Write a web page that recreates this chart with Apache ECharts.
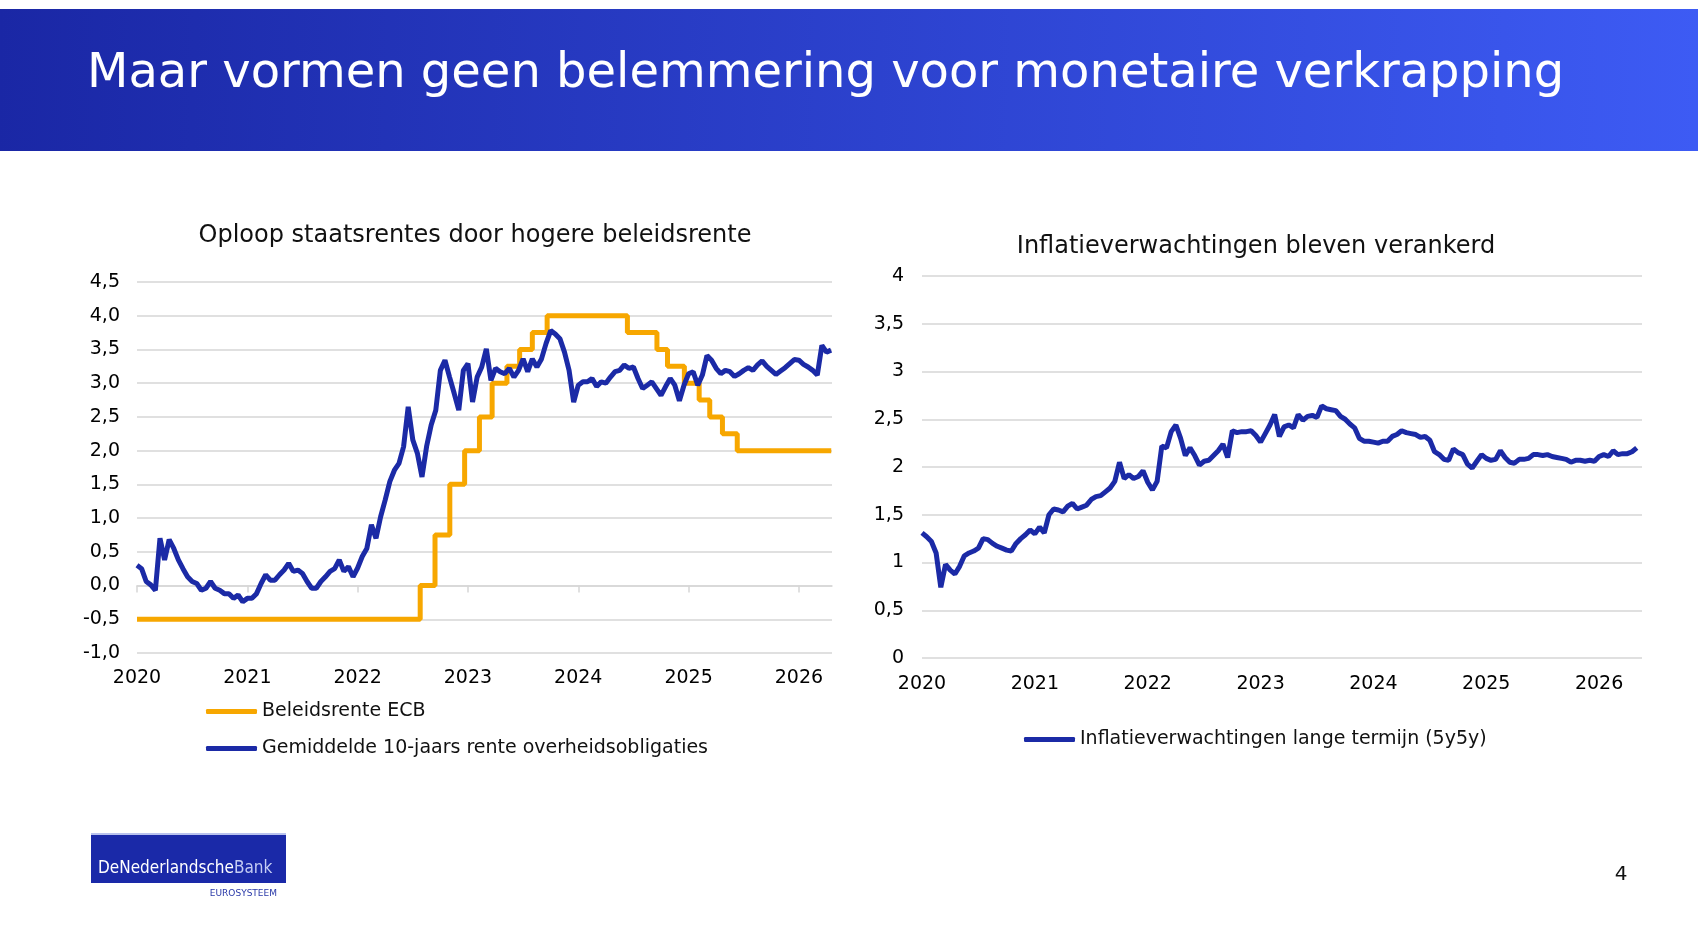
<!DOCTYPE html>
<html>
<head>
<meta charset="utf-8">
<script src="https://cdn.jsdelivr.net/npm/echarts@6/dist/echarts.min.js"></script>
<style>
  html, body { margin: 0; padding: 0; background: #fff; }
  #chart { width: 1698px; height: 928px; }
</style>
</head>
<body>
<div id="chart"></div>
<script>
// tick labels
const years = [2020, 2021, 2022, 2023, 2024, 2025, 2026];

// ECB deposit rate: date of change + new level
const policyDates = ["2020-01-01", "2022-07-27", "2022-09-14", "2022-11-02", "2022-12-21",
  "2023-02-08", "2023-03-22", "2023-05-10", "2023-06-21", "2023-08-02", "2023-09-20",
  "2024-06-12", "2024-09-18", "2024-10-23", "2024-12-18", "2025-02-05", "2025-03-12",
  "2025-04-23", "2025-06-11", "2026-04-18"];
const policyRates = [-0.5, 0, 0.75, 1.5, 2.0, 2.5, 3.0, 3.25, 3.5, 3.75, 4.0,
  3.75, 3.5, 3.25, 3.0, 2.75, 2.5, 2.25, 2.0, 2.0];

// half-monthly readings from start of 2020
const seriesStart = 2020;
const perYear = 24;

// gemiddelde 10-jaars rente
const bondYield = [
  0.30, 0.25, 0.06, 0.01, -0.07, 0.70, 0.38, 0.68, 0.55, 0.38, 0.25, 0.13,
  0.06, 0.03, -0.07, -0.04, 0.06, -0.04, -0.07, -0.12, -0.12, -0.19, -0.14, -0.24,
  -0.19, -0.19, -0.12, 0.03, 0.16, 0.08, 0.08, 0.16, 0.23, 0.33, 0.21, 0.23,
  0.18, 0.06, -0.04, -0.04, 0.06, 0.13, 0.21, 0.25, 0.38, 0.21, 0.28, 0.13,
  0.26, 0.43, 0.55, 0.90, 0.70, 1.02, 1.27, 1.54, 1.71, 1.81, 2.06, 2.65,
  2.16, 1.96, 1.61, 2.06, 2.38, 2.60, 3.19, 3.34, 3.09, 2.85, 2.60, 3.19,
  3.29, 2.72, 3.09, 3.24, 3.51, 3.04, 3.22, 3.17, 3.14, 3.22, 3.09, 3.19,
  3.36, 3.17, 3.36, 3.24, 3.36, 3.59, 3.78, 3.73, 3.66, 3.46, 3.19, 2.72,
  2.97, 3.02, 3.02, 3.07, 2.95, 3.02, 3.00, 3.09, 3.17, 3.19, 3.27, 3.22,
  3.24, 3.07, 2.92, 2.97, 3.02, 2.92, 2.82, 2.95, 3.07, 2.97, 2.74, 2.97,
  3.14, 3.17, 2.97, 3.12, 3.41, 3.34, 3.22, 3.14, 3.19, 3.17, 3.10, 3.14,
  3.19, 3.23, 3.19, 3.27, 3.33, 3.25, 3.19, 3.13, 3.18, 3.23, 3.29, 3.35,
  3.34, 3.28, 3.24, 3.19, 3.12, 3.56, 3.46, 3.49
];

// inflatieverwachtingen 5y5y
const inflExp = [
  1.31, 1.27, 1.22, 1.10, 0.74, 0.98, 0.92, 0.88, 0.96, 1.07, 1.10, 1.12,
  1.15, 1.25, 1.24, 1.20, 1.17, 1.15, 1.13, 1.12, 1.20, 1.25, 1.29, 1.34,
  1.30, 1.37, 1.31, 1.50, 1.56, 1.55, 1.53, 1.59, 1.62, 1.56, 1.58, 1.60,
  1.66, 1.69, 1.70, 1.74, 1.78, 1.85, 2.05, 1.88, 1.92, 1.88, 1.90, 1.96,
  1.84, 1.76, 1.85, 2.22, 2.20, 2.37, 2.44, 2.30, 2.12, 2.20, 2.12, 2.02,
  2.06, 2.07, 2.12, 2.17, 2.24, 2.10, 2.38, 2.36, 2.37, 2.37, 2.38, 2.33,
  2.26, 2.35, 2.44, 2.55, 2.32, 2.42, 2.44, 2.41, 2.55, 2.49, 2.53, 2.54,
  2.52, 2.64, 2.61, 2.60, 2.59, 2.53, 2.50, 2.45, 2.41, 2.30, 2.27, 2.27,
  2.26, 2.25, 2.27, 2.27, 2.32, 2.34, 2.38, 2.36, 2.35, 2.34, 2.31, 2.32,
  2.28, 2.16, 2.13, 2.08, 2.07, 2.19, 2.15, 2.13, 2.03, 1.99, 2.06, 2.13,
  2.09, 2.07, 2.08, 2.17, 2.10, 2.05, 2.04, 2.08, 2.08, 2.09, 2.13, 2.13,
  2.12, 2.13, 2.11, 2.10, 2.09, 2.08, 2.05, 2.07, 2.07, 2.06, 2.07, 2.06,
  2.11, 2.13, 2.11, 2.17, 2.13, 2.14, 2.14, 2.16, 2.20
];

const BLUE = "#1b2aa6";
const ORANGE = "#f7a700";
const GRID = "#d6d6d6";
const FONT = "DejaVu Sans, Verdana, sans-serif";

function toYear(s) {
  const [y, m, d] = s.split("-").map(Number);
  const t0 = Date.UTC(y, 0, 1);
  return y + (Date.UTC(y, m - 1, d) - t0) / (Date.UTC(y + 1, 0, 1) - t0);
}

const policyData = policyDates.map((d, i) => [toYear(d), policyRates[i]]);
const bondData = bondYield.map((v, i) => [seriesStart + i / perYear, v]);
const inflData = inflExp.map((v, i) => [seriesStart + i / perYear, v]);

const comma = (v, dec) => v.toFixed(dec).replace(".", ",").replace("-0,0", "0,0");

const chart = echarts.init(document.getElementById("chart"));

const labelStyle = { color: "#000", fontSize: 19, fontFamily: FONT };

const option = {
  animation: false,
  backgroundColor: "#fff",
  graphic: [
    {
      type: "rect", shape: { x: 0, y: 9, width: 1698, height: 142 },
      style: {
        fill: new echarts.graphic.LinearGradient(0, 0, 1, 0.3, [
          { offset: 0, color: "#1a27a5" },
          { offset: 1, color: "#3d5bf4" }
        ])
      }, z: -1
    },
    {
      type: "text", x: 87, y: 75,
      style: { text: "Maar vormen geen belemmering voor monetaire verkrapping", fill: "#fff",
        font: "48px " + FONT, verticalAlign: "middle" }
    },
    {
      type: "text", x: 475, y: 236,
      style: { text: "Oploop staatsrentes door hogere beleidsrente", fill: "#111",
        font: "24px " + FONT, align: "center", verticalAlign: "middle" }
    },
    {
      type: "text", x: 1256, y: 247,
      style: { text: "Inflatieverwachtingen bleven verankerd", fill: "#111",
        font: "24px " + FONT, align: "center", verticalAlign: "middle" }
    },
    // logo
    { type: "rect", shape: { x: 91, y: 835, width: 195, height: 48 }, style: { fill: "#1a29a8" } },
    { type: "rect", shape: { x: 91, y: 833, width: 195, height: 2 }, style: { fill: "#b9c2ee" } },
    {
      type: "text", x: 98, y: 869,
      style: {
        text: "{a|DeNederlandsche}{b|Bank}", verticalAlign: "middle",
        rich: {
          a: { fill: "#fff", fontSize: 17, fontFamily: "DejaVu Sans Condensed, DejaVu Sans" },
          b: { fill: "#c4ccf4", fontSize: 17, fontFamily: "DejaVu Sans Condensed, DejaVu Sans" }
        }
      }
    },
    {
      type: "text", x: 277, y: 894,
      style: { text: "EUROSYSTEEM", fill: "#2a39a8", font: "9px " + FONT, align: "right", verticalAlign: "middle" }
    },
    {
      type: "text", x: 1621, y: 875,
      style: { text: "4", fill: "#111", font: "20px " + FONT, align: "center", verticalAlign: "middle" }
    }
  ],
  grid: [
    { left: 137, top: 282, width: 695, height: 371 },
    { left: 922, top: 276, width: 720, height: 382 }
  ],
  xAxis: [
    {
      gridIndex: 0, type: "value", min: 2020, max: 2026.3, position: "bottom",
      axisLine: { show: false, onZero: false }, axisTick: { show: false }, splitLine: { show: false },
      axisLabel: { ...labelStyle, margin: 16, customValues: years, formatter: v => String(v) }
    },
    {
      // zero line with year ticks
      gridIndex: 0, type: "value", min: 2020, max: 2026.3, position: "bottom",
      axisLine: { show: true, onZero: true, lineStyle: { color: GRID, width: 1.5 } },
      axisTick: { show: true, length: 7, customValues: years, lineStyle: { color: GRID, width: 1.5 } },
      axisLabel: { show: false }, splitLine: { show: false }
    },
    {
      gridIndex: 1, type: "value", min: 2020, max: 2026.38,
      axisLine: { show: false, onZero: false }, axisTick: { show: false }, splitLine: { show: false },
      axisLabel: { ...labelStyle, margin: 17, customValues: years, formatter: v => String(v) }
    }
  ],
  yAxis: [
    {
      gridIndex: 0, type: "value", min: -1, max: 4.5, interval: 0.5,
      axisLine: { show: false }, axisTick: { show: false },
      splitLine: { lineStyle: { color: GRID, width: 1.5 } },
      axisLabel: { ...labelStyle, margin: 17, formatter: v => comma(v, 1) }
    },
    {
      gridIndex: 1, type: "value", min: 0, max: 4, interval: 0.5,
      axisLine: { show: false }, axisTick: { show: false },
      splitLine: { lineStyle: { color: GRID, width: 1.5 } },
      axisLabel: { ...labelStyle, margin: 18, formatter: v => (Number.isInteger(v) ? String(v) : comma(v, 1)) }
    }
  ],
  legend: [
    {
      data: ["Beleidsrente ECB", "Gemiddelde 10-jaars rente overheidsobligaties"],
      orient: "vertical", left: 201, top: 697, itemGap: 18,
      itemWidth: 51, itemHeight: 5, icon: "roundRect",
      textStyle: { color: "#111", fontSize: 19, fontFamily: FONT }
    },
    {
      data: ["Inflatieverwachtingen lange termijn (5y5y)"],
      orient: "vertical", left: 1019, top: 725,
      itemWidth: 51, itemHeight: 5, icon: "roundRect",
      textStyle: { color: "#111", fontSize: 19, fontFamily: FONT }
    }
  ],
  series: [
    {
      name: "Beleidsrente ECB", type: "line", step: "end",
      xAxisIndex: 0, yAxisIndex: 0, data: policyData,
      showSymbol: false, color: ORANGE, lineStyle: { color: ORANGE, width: 5 }
    },
    {
      name: "Gemiddelde 10-jaars rente overheidsobligaties", type: "line",
      xAxisIndex: 0, yAxisIndex: 0, data: bondData,
      showSymbol: false, color: BLUE, lineStyle: { color: BLUE, width: 5 }
    },
    {
      name: "Inflatieverwachtingen lange termijn (5y5y)", type: "line",
      xAxisIndex: 2, yAxisIndex: 1, data: inflData,
      showSymbol: false, color: BLUE, lineStyle: { color: BLUE, width: 5 }
    }
  ]
};

chart.setOption(option);
</script>
</body>
</html>
